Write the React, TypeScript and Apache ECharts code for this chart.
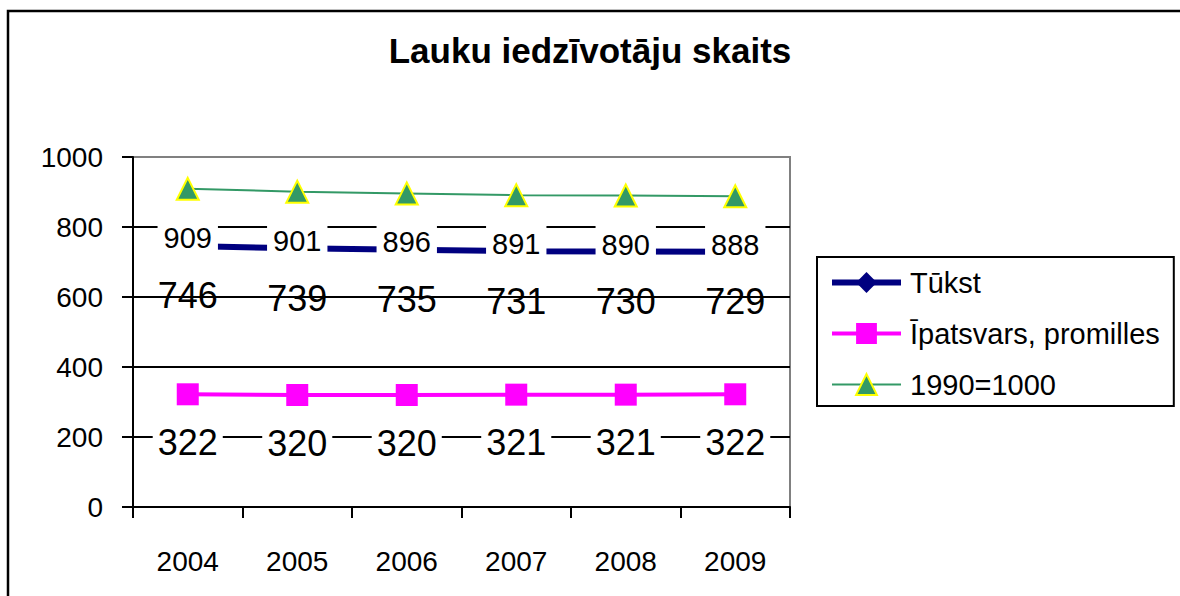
import React, { useEffect, useRef } from "react";
import * as echarts from "echarts";

const years = ["2004", "2005", "2006", "2007", "2008", "2009"];
const tukst = [746, 739, 735, 731, 730, 729];
const ipatsvars = [322, 320, 320, 321, 321, 322];
const index1990 = [909, 901, 896, 891, 890, 888];
const titleText = "Lauku iedzīvotāju skaits";
const seriesNames = ["Tūkst", "Īpatsvars, promilles", "1990=1000"];

const FONT = "'Liberation Sans', Arial, sans-serif";

export default function App() {
  const ref = useRef<HTMLDivElement>(null);
  useEffect(() => {
    if (!ref.current) return;
    const chart = echarts.init(ref.current, undefined, { renderer: "svg" });
    chart.setOption({
      animation: false,
      backgroundColor: "#ffffff",
      textStyle: { fontFamily: FONT, color: "#000" },
      title: {
        text: titleText,
        left: "center",
        top: 33,
        padding: [0, 0, 0, 20],
        textStyle: { fontFamily: FONT, fontSize: 35, fontWeight: "bold", color: "#000" },
      },
      graphic: [
        {
          type: "rect",
          shape: { x: 8, y: 11, width: 1200, height: 620 },
          style: { fill: "none", stroke: "#000", lineWidth: 2.5 },
          silent: true,
        },
      ],
      legend: {
        orient: "vertical",
        left: 817,
        top: 257,
        itemWidth: 69,
        itemHeight: 26,
        itemGap: 22,
        padding: [11, 14, 7, 12],
        borderColor: "#000",
        borderWidth: 2,
        lineStyle: { width: "inherit" },
        textStyle: { fontFamily: FONT, fontSize: 29, color: "#000", padding: [0, 0, 0, 4] },
        data: seriesNames,
      },
      grid: {
        left: 133,
        right: 390,
        top: 157,
        bottom: 89,
        show: true,
        borderColor: "#808080",
        borderWidth: 2,
        backgroundColor: "transparent",
      },
      xAxis: {
        type: "category",
        data: years,
        boundaryGap: true,
        axisLine: { lineStyle: { color: "#000", width: 2 } },
        axisTick: { show: true, length: 11, lineStyle: { color: "#000", width: 2 } },
        axisLabel: { fontFamily: FONT, fontSize: 28, color: "#000", margin: 40 },
        splitLine: { show: false },
      },
      yAxis: {
        type: "value",
        min: 0,
        max: 1000,
        interval: 200,
        axisLine: { show: true, lineStyle: { color: "#000", width: 2 } },
        axisTick: { show: true, length: 11, lineStyle: { color: "#000", width: 2 } },
        axisLabel: {
          fontFamily: FONT,
          fontSize: 28,
          color: "#000",
          margin: 30,
          formatter: (v: number) => String(v),
        },
        splitLine: {
          show: true,
          lineStyle: { color: ["#000", "#000", "#000", "#000", "#000", "#808080"], width: 2 },
        },
      },
      series: [
        {
          name: seriesNames[0],
          type: "line",
          data: tukst,
          symbol: "diamond",
          symbolSize: 20,
          z: 2,
          lineStyle: { color: "#000080", width: 6 },
          itemStyle: { color: "#000080" },
          label: {
            show: true,
            position: "inside",
            offset: [0, 50],
            fontFamily: FONT,
            fontSize: 36,
            color: "#000",
          },
        },
        {
          name: seriesNames[1],
          type: "line",
          data: ipatsvars,
          symbol: "rect",
          symbolSize: 22,
          z: 3,
          lineStyle: { color: "#FF00FF", width: 4 },
          itemStyle: { color: "#FF00FF" },
          label: {
            show: true,
            position: "inside",
            offset: [0, 48],
            fontFamily: FONT,
            fontSize: 36,
            color: "#000",
            backgroundColor: "#fff",
            padding: [0, 5],
          },
        },
        {
          name: seriesNames[2],
          type: "line",
          data: index1990,
          symbol: "triangle",
          symbolSize: 22,
          z: 4,
          lineStyle: { color: "#339966", width: 2 },
          itemStyle: { color: "#339966", borderColor: "#FFFF00", borderWidth: 2 },
          label: {
            show: true,
            position: "inside",
            offset: [0, 49],
            fontFamily: FONT,
            fontSize: 29,
            color: "#000",
            backgroundColor: "#fff",
            padding: [5, 6],
          },
        },
      ],
    });
    return () => chart.dispose();
  }, []);
  return (
    <div
      ref={ref}
      style={{ position: "absolute", left: 0, top: 0, width: 1180, height: 596 }}
    />
  );
}
